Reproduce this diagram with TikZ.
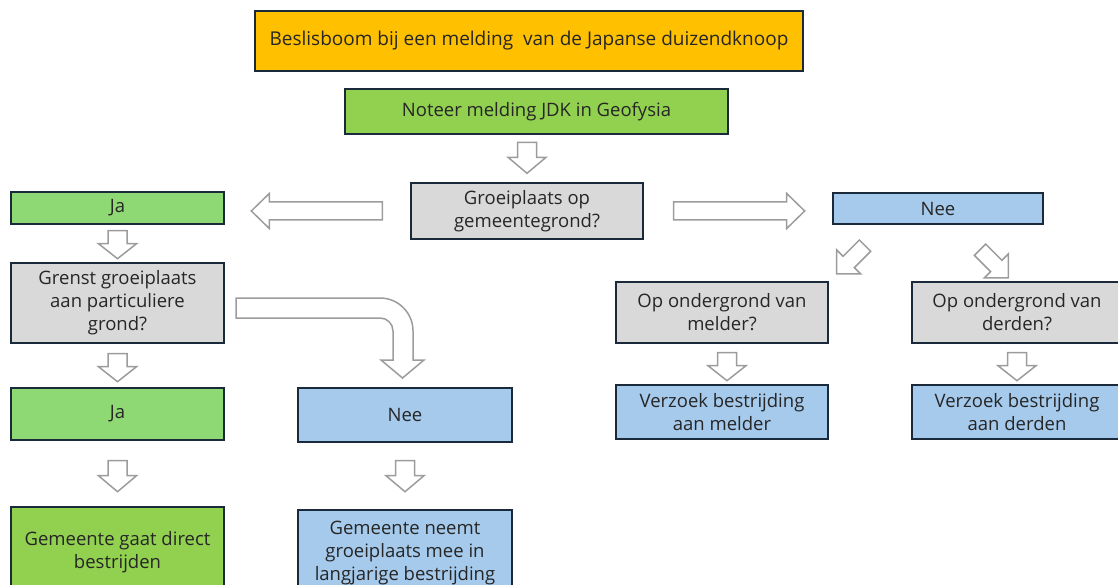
\documentclass[tikz,border=0pt]{standalone}
\usepackage{fontspec}
\setmainfont{Open Sans}
\usetikzlibrary{calc}
\definecolor{titleorange}{HTML}{FFC000}
\definecolor{boxgreen}{HTML}{92D050}
\definecolor{jagreen}{HTML}{8ED973}
\definecolor{boxgrey}{HTML}{D9D9D9}
\definecolor{boxblue}{HTML}{A6CAEC}
\definecolor{boxline}{HTML}{1B2A3A}
\definecolor{arrowgrey}{HTML}{9C9C9C}
\tikzset{
  box/.style={draw=boxline, line width=1.4pt, inner sep=0pt, align=center,
    font=\fontsize{18.5}{23}\selectfont, text=black!85},
  greenbox/.style={box, fill=boxgreen},
  jabox/.style={box, fill=jagreen},
  greybox/.style={box, fill=boxgrey},
  bluebox/.style={box, fill=boxblue},
  arrowline/.style={draw=arrowgrey, fill=white, line width=1.5pt, line join=miter},
  pics/blockarrow/.style n args={4}{code={
    \draw[arrowline] (0,-#4) -- (#1-#2,-#4) -- (#1-#2,-#3) -- (#1,0)
      -- (#1-#2,#3) -- (#1-#2,#4) -- (0,#4) -- cycle;}},
}

\begin{document}
\begin{tikzpicture}[x=1pt, y=-1pt]
        \useasboundingbox (0,0) rectangle (1118,585);
        \node (title) [box, fill=titleorange, minimum width=548pt, minimum height=60pt,
          font=\fontsize{19}{23}\selectfont] at (529,41) {Beslisboom bij een melding~ van de Japanse duizendknoop};
        \node (noteer) [greenbox, minimum width=383pt, minimum height=45pt] at (536.5,111.5) {Noteer melding JDK in Geofysia};
        \node (groei) [greybox, minimum width=232pt, minimum height=56pt] at (527,211) {Groeiplaats op\\gemeentegrond?};
        \node (ja1) [jabox, minimum width=213pt, minimum height=32pt] at (117.5,208) {Ja};
        \node (nee1) [bluebox, minimum width=210pt, minimum height=31pt] at (938,208.5) {Nee};
        \node (grenst) [greybox, minimum width=213pt, minimum height=80pt] at (117.5,303) {Grenst groeiplaats\\aan particuliere\\grond?};
        \node (ja2) [jabox, minimum width=213pt, minimum height=52pt] at (117.5,414) {Ja};
        \node (nee2) [bluebox, minimum width=214pt, minimum height=54pt] at (405,415) {Nee};
        \node (gaat) [greenbox, minimum width=213pt, minimum height=90pt] at (117.5,552) {Gemeente gaat direct\\bestrijden};
        \node (neemt) [bluebox, minimum width=214pt, minimum height=86pt] at (405,553) {Gemeente neemt\\groeiplaats mee in\\langjarige bestrijding};
        \node (melder) [greybox, minimum width=212pt, minimum height=61pt] at (722,312.5) {Op ondergrond van\\melder?};
        \node (derden) [greybox, minimum width=210pt, minimum height=61pt] at (1017,312.5) {Op ondergrond van\\derden?};
        \node (vmelder) [bluebox, minimum width=212pt, minimum height=54pt] at (722,412) {Verzoek bestrijding\\aan melder};
        \node (vderden) [bluebox, minimum width=210pt, minimum height=54pt] at (1017,412) {Verzoek bestrijding\\aan derden};

        % block arrows
        \pic[rotate=-90] at ($(groei.north)+(0,-40)$) {blockarrow={31}{16}{19}{9.5}};
        \pic[rotate=180] at ($(groei.west)+(-28,0)$) {blockarrow={131}{18}{17.5}{9}};
        \pic at ($(groei.east)+(30,0)$) {blockarrow={131}{18}{17.5}{9}};
        \pic[rotate=-90] at ($(ja1.south)+(0,6)$) {blockarrow={28}{15}{19}{9.5}};
        \pic[rotate=-90] at ($(grenst.south)+(0,10)$) {blockarrow={28}{15}{19}{9.5}};
        \pic[rotate=-90] at ($(ja2.south)+(0,20)$) {blockarrow={31}{16}{19}{9.5}};
        \pic[rotate=-90] at ($(nee2.south)+(0,18)$) {blockarrow={31}{16}{19}{9.5}};
        \pic[rotate=-90] at ($(melder.south)+(5,9)$) {blockarrow={28}{15}{19}{9.5}};
        \pic[rotate=-90] at ($(derden.south)+(0,9)$) {blockarrow={28}{15}{19}{9.5}};
        \pic[rotate=-135] at ($(nee1.south)+(-73,21)$) {blockarrow={40}{17}{17}{8}};
        \pic[rotate=-45] at ($(nee1.south)+(42,25)$) {blockarrow={40}{17}{17}{8}};
        % bent arrow grenst -> nee2
        \draw[arrowline] (236,298) -- (380,298) .. controls (398.2,298) and (413,312.8) .. (413,331)
          -- (413,360) -- (424,360) -- (402.5,378) -- (381,360) -- (393,360) -- (393,331)
          .. controls (393,323.8) and (387.2,318) .. (380,318) -- (236,318) -- cycle;
\end{tikzpicture}
\end{document}
